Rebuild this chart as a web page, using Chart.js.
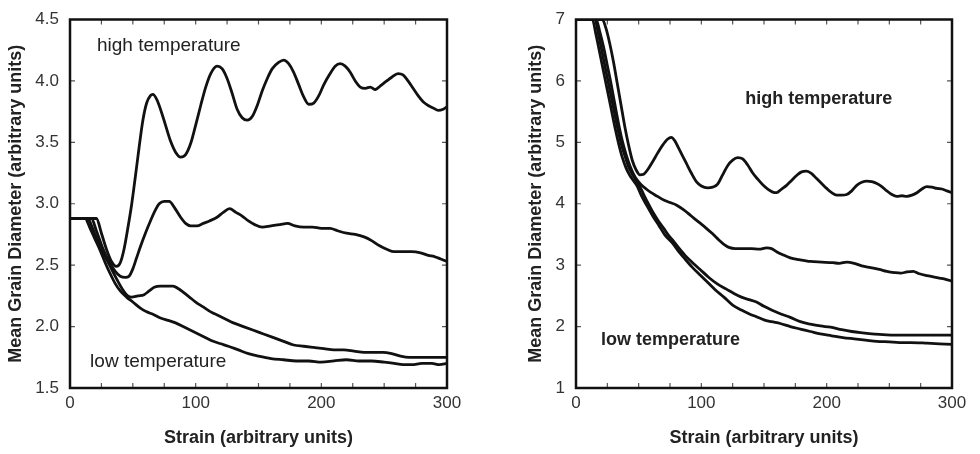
<!DOCTYPE html>
<html>
<head>
<meta charset="utf-8">
<script src="https://cdn.jsdelivr.net/npm/chart.js@4/dist/chart.umd.min.js"></script>
<style>
  html, body { margin: 0; padding: 0; background: #fff; }
  #wrap { position: relative; width: 980px; height: 454px; }
  canvas { position: absolute; top: 0; }
</style>
</head>
<body>
<div id="wrap">
  <canvas id="chartLeft" width="490" height="454" style="left:0"></canvas>
  <canvas id="chartRight" width="490" height="454" style="left:490px"></canvas>
</div>
<script>
// left panel: grain diameter starting at 2.9
const leftHighStrain = [0,21,25,29,33,37,40,43,46,49,52,55,58,61,64,66,69,72,76,80,84,88,92,96,100,104,108,112,117,121,125,129,133,137,141,145,149,153,157,161,166,170,174,178,182,186,190,194,198,202,207,211,215,219,223,227,231,235,239,243,247,252,256,261,265,269,273,277,281,285,289,293,297,300];
const leftHighSize = [2.88,2.88,2.76,2.63,2.53,2.49,2.52,2.63,2.80,2.99,3.22,3.46,3.68,3.82,3.88,3.89,3.85,3.77,3.64,3.51,3.42,3.38,3.40,3.49,3.64,3.80,3.95,4.06,4.12,4.10,4.02,3.90,3.77,3.70,3.68,3.71,3.80,3.92,4.02,4.10,4.15,4.17,4.14,4.07,3.97,3.87,3.81,3.82,3.88,3.97,4.06,4.12,4.14,4.12,4.07,4.00,3.95,3.94,3.95,3.93,3.96,4.00,4.03,4.06,4.05,4.00,3.94,3.88,3.83,3.80,3.78,3.76,3.77,3.79];

const leftMidStrain = [0,17,21,26,31,36,40,44,47,50,53,56,60,64,68,71,75,79,83,88,92,96,101,106,111,117,122,127,132,137,142,147,153,160,167,173,179,186,193,200,207,213,220,227,234,240,246,252,258,265,272,279,285,290,295,300];
const leftMidSize = [2.88,2.88,2.78,2.64,2.53,2.45,2.41,2.40,2.41,2.47,2.56,2.65,2.76,2.86,2.95,3.00,3.02,3.02,2.97,2.89,2.84,2.82,2.82,2.84,2.86,2.89,2.93,2.96,2.93,2.90,2.86,2.83,2.81,2.82,2.83,2.84,2.82,2.81,2.81,2.80,2.80,2.78,2.76,2.75,2.73,2.70,2.66,2.63,2.61,2.61,2.61,2.60,2.58,2.57,2.55,2.53];

const leftBumpStrain = [0,14,18,22,27,32,37,42,46,49,54,59,63,67,72,77,82,86,90,95,100,106,112,118,124,130,138,146,154,162,170,178,186,194,202,210,218,226,234,242,249,256,263,270,280,290,300];
const leftBumpSize = [2.88,2.88,2.80,2.70,2.59,2.49,2.39,2.30,2.25,2.24,2.25,2.26,2.29,2.32,2.33,2.33,2.33,2.31,2.28,2.24,2.20,2.16,2.12,2.09,2.06,2.03,2.00,1.97,1.94,1.91,1.88,1.85,1.84,1.83,1.82,1.81,1.81,1.80,1.79,1.79,1.79,1.78,1.76,1.75,1.75,1.75,1.75];

const leftLowStrain = [0,12,16,20,24,28,32,36,40,45,50,56,61,66,72,78,84,90,96,102,108,114,120,126,134,142,150,160,170,180,190,200,210,220,230,240,250,258,265,272,280,288,294,300];
const leftLowSize = [2.88,2.88,2.80,2.71,2.62,2.52,2.43,2.35,2.29,2.24,2.20,2.15,2.12,2.10,2.07,2.05,2.03,2.00,1.97,1.94,1.91,1.88,1.86,1.84,1.81,1.78,1.76,1.74,1.73,1.72,1.72,1.71,1.72,1.73,1.72,1.72,1.71,1.70,1.69,1.69,1.70,1.70,1.69,1.70];

// right panel: grain diameter starting at 7
const rightHighStrain = [0,21,24,27,30,33,36,39,42,45,48,51,54,57,61,65,69,73,76,79,82,85,88,92,96,100,105,109,113,117,121,125,129,133,137,141,145,149,153,157,160,164,168,172,176,180,184,188,192,196,200,204,208,212,216,220,224,228,232,236,240,244,248,252,256,260,264,268,272,276,280,284,288,292,296,300];
const rightHighSize = [7,7,6.85,6.6,6.3,5.95,5.6,5.25,4.95,4.7,4.55,4.47,4.48,4.55,4.68,4.82,4.95,5.05,5.08,5.02,4.90,4.78,4.66,4.50,4.36,4.29,4.26,4.27,4.32,4.47,4.62,4.71,4.75,4.73,4.63,4.50,4.40,4.31,4.24,4.19,4.18,4.24,4.30,4.38,4.46,4.52,4.53,4.49,4.41,4.33,4.25,4.18,4.14,4.14,4.15,4.21,4.30,4.35,4.37,4.36,4.33,4.28,4.21,4.15,4.12,4.13,4.12,4.14,4.18,4.24,4.28,4.27,4.25,4.24,4.21,4.18];

const rightMidStrain = [0,16,19,22,25,28,31,34,37,40,43,46,49,52,56,60,65,70,75,80,86,92,98,104,109,114,118,122,127,133,140,146,152,156,160,165,171,178,187,196,205,210,216,222,228,235,242,248,254,259,264,269,274,280,285,290,295,300];
const rightMidSize = [7,7,6.8,6.55,6.25,5.95,5.62,5.3,5.02,4.8,4.62,4.48,4.38,4.31,4.24,4.18,4.12,4.06,4.02,3.98,3.90,3.80,3.70,3.60,3.51,3.41,3.34,3.29,3.27,3.27,3.27,3.26,3.28,3.27,3.22,3.17,3.12,3.09,3.06,3.05,3.04,3.03,3.05,3.03,2.99,2.96,2.93,2.90,2.88,2.87,2.89,2.90,2.86,2.83,2.81,2.79,2.77,2.74];

const rightSlowStrain = [0,15,18,21,24,27,30,33,36,39,42,45,48,51,54,58,62,66,70,74,77,82,87,93,99,106,113,120,126,132,138,144,150,156,163,171,179,187,195,203,212,220,227,236,245,254,270,285,300];
const rightSlowSize = [7,7,6.75,6.45,6.15,5.85,5.55,5.25,4.98,4.78,4.6,4.48,4.38,4.28,4.15,3.99,3.84,3.71,3.60,3.48,3.41,3.28,3.16,3.04,2.93,2.80,2.69,2.61,2.54,2.48,2.44,2.40,2.33,2.27,2.21,2.15,2.08,2.04,2.01,1.99,1.95,1.92,1.90,1.88,1.87,1.86,1.86,1.86,1.86];

const rightLowStrain = [0,13,16,19,22,25,28,31,34,37,40,43,46,49,52,56,61,66,71,77,82,87,93,99,105,111,118,125,132,138,144,150,156,163,171,179,187,195,204,213,222,231,240,250,258,267,280,290,300];
const rightLowSize = [7,7,6.75,6.45,6.15,5.85,5.55,5.25,4.98,4.75,4.58,4.46,4.37,4.28,4.14,3.99,3.81,3.65,3.49,3.36,3.22,3.10,2.96,2.84,2.72,2.60,2.48,2.35,2.27,2.21,2.16,2.11,2.08,2.05,2.00,1.96,1.92,1.88,1.85,1.82,1.80,1.78,1.76,1.75,1.74,1.74,1.73,1.72,1.71];

const strainTicks = [0, 100, 200, 300];
const leftSizeTicks = [1.5, 2.0, 2.5, 3.0, 3.5, 4.0, 4.5];
const rightSizeTicks = [1, 2, 3, 4, 5, 6, 7];

const xTitle = 'Strain (arbitrary units)';
const yTitle = 'Mean Grain Diameter (arbitrary units)';

const FONT = '"Liberation Sans", Arial, sans-serif';

function pts(xs, ys) {
  return xs.map((x, i) => ({ x: x, y: ys[i] }));
}

function line(xs, ys) {
  return {
    data: pts(xs, ys),
    borderColor: '#111',
    borderWidth: 2.8,
    pointRadius: 0,
    fill: false,
    cubicInterpolationMode: 'monotone'
  };
}

// frame, inward tick marks and the two text labels
const framePlugin = {
  id: 'frame',
  afterDraw(chart, args, opts) {
    const ctx = chart.ctx;
    const a = chart.chartArea;
    const xs = chart.scales.x, ys = chart.scales.y;
    ctx.save();
    ctx.strokeStyle = '#555';
    ctx.lineWidth = 1.2;
    ctx.beginPath();
    for (let v = 25; v < 300; v += 25) {
      const px = xs.getPixelForValue(v);
      ctx.moveTo(px, a.bottom); ctx.lineTo(px, a.bottom - 5);
      ctx.moveTo(px, a.top); ctx.lineTo(px, a.top + 5);
    }
    opts.yTicks.forEach(v => {
      const py = ys.getPixelForValue(v);
      ctx.moveTo(a.left, py); ctx.lineTo(a.left + 5, py);
      ctx.moveTo(a.right, py); ctx.lineTo(a.right - 5, py);
    });
    ctx.stroke();

    ctx.strokeStyle = '#111';
    ctx.lineWidth = 2.5;
    ctx.strokeRect(a.left, a.top, a.right - a.left, a.bottom - a.top);

    ctx.fillStyle = '#222';
    ctx.textBaseline = 'middle';
    ctx.textAlign = 'left';
    ctx.font = opts.labelFont;
    opts.labels.forEach(l => {
      ctx.fillText(l.text, xs.getPixelForValue(l.x), ys.getPixelForValue(l.y));
    });
    ctx.restore();
  }
};

function makeChart(id, datasets, yMin, yMax, yTicks, pad, yWidth, labels, labelFont, fmt) {
  return new Chart(document.getElementById(id), {
    type: 'line',
    data: { datasets: datasets },
    options: {
      responsive: false,
      animation: false,
      layout: { padding: pad },
      plugins: {
        legend: { display: false },
        tooltip: { enabled: false },
        frame: { yTicks: yTicks, labels: labels, labelFont: labelFont }
      },
      scales: {
        x: {
          type: 'linear',
          min: 0, max: 300,
          afterBuildTicks: s => { s.ticks = strainTicks.map(v => ({ value: v })); },
          afterFit: s => { s.height = 66; },
          grid: { display: false, drawTicks: false },
          border: { display: false },
          ticks: { padding: 7, color: '#333', font: { family: FONT, size: 17, lineHeight: 1 } },
          title: {
            display: true, text: xTitle, color: '#222',
            font: { family: FONT, size: 18, weight: 'bold' },
            padding: { top: 0, bottom: 5 }
          }
        },
        y: {
          min: yMin, max: yMax,
          afterBuildTicks: s => { s.ticks = yTicks.map(v => ({ value: v })); },
          afterFit: s => { s.width = yWidth; },
          grid: { display: false, drawTicks: false },
          border: { display: false },
          ticks: { padding: 11, color: '#333', font: { family: FONT, size: 17, lineHeight: 1 }, callback: fmt },
          title: {
            display: true, text: yTitle, color: '#222',
            font: { family: FONT, size: 18, weight: 'bold' },
            padding: { top: 5, bottom: 0 }
          }
        }
      }
    },
    plugins: [framePlugin]
  });
}

makeChart('chartLeft', [
  line(leftHighStrain, leftHighSize),
  line(leftMidStrain, leftMidSize),
  line(leftBumpStrain, leftBumpSize),
  line(leftLowStrain, leftLowSize)
], 1.5, 4.5, leftSizeTicks, { top: 10, right: 43, left: 0, bottom: 0 }, 70,
  [{ text: 'high temperature', x: 21.5, y: 4.286 }, { text: 'low temperature', x: 16, y: 1.714 }],
  '19px ' + FONT, v => Number(v).toFixed(1));

makeChart('chartRight', [
  line(rightHighStrain, rightHighSize),
  line(rightMidStrain, rightMidSize),
  line(rightSlowStrain, rightSlowSize),
  line(rightLowStrain, rightLowSize)
], 1, 7, rightSizeTicks, { top: 11, right: 28, left: 30, bottom: 0 }, 56,
  [{ text: 'high temperature', x: 135, y: 5.71 }, { text: 'low temperature', x: 20, y: 1.78 }],
  'bold 18px ' + FONT, v => String(v));
</script>
</body>
</html>
